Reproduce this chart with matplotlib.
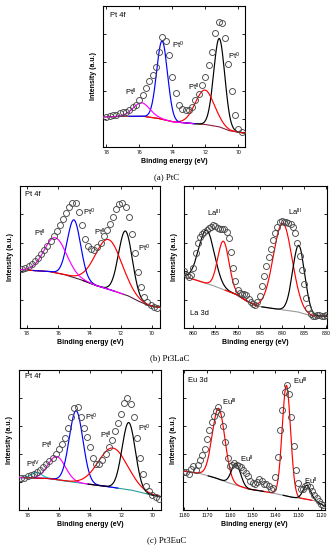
import numpy as np
import matplotlib
matplotlib.use("Agg")
import matplotlib.pyplot as plt

plt.rcParams['font.family'] = ['Liberation Sans', 'DejaVu Sans']
plt.rcParams['mathtext.default'] = 'regular'

# ---------------- data ----------------
# (a) PtC, Pt 4f
a_E = np.round(np.arange(78.0, 69.75, -0.2), 2)
a_I = np.array([21, 22, 22.5, 23, 24, 24.5, 25, 26.5, 28.5, 30, 33, 37, 42, 47, 51, 57, 67.5, 78, 75, 65,
                50, 38, 30, 27, 26, 26.5, 28.5, 33, 37.5, 44, 50, 58, 67.5, 80.5, 89, 88, 77, 59, 40, 22.5,
                13, 10.5]) / 100
a_bg_E = [78.2, 76.99, 75.77, 74.76, 73.95, 72.74, 71.93, 71.12, 70.51, 69.70]
a_bg_I = [0.213, 0.218, 0.218, 0.201, 0.178, 0.166, 0.159, 0.142, 0.114, 0.100]
a_centers = [71.16, 72.03, 74.62, 75.87]
a_amps = [0.627, 0.244, 0.555, 0.095]
a_fwhm = [0.79, 1.36, 0.77, 1.2]
a_colors = ['black', 'red', 'blue', 'magenta']

# (b) Pt3LaC, Pt 4f
bl_E = np.round(np.arange(78.3, 69.65, -0.2), 2)
bl_I = np.array([41.5, 42, 43.5, 45, 47, 49.5, 52, 55, 58, 61.5, 65, 68.5, 72.5, 77, 81, 85.5, 88, 88, 82, 72.5,
                 63, 58, 55.5, 55, 57, 60, 64.5, 69, 73.5, 78.5, 83.5, 87.5, 88, 85, 78.5, 66.5, 52.5, 39.5, 29,
                 21.5, 18, 16.5, 15, 14]) / 100
bl_bg_E = [78.4, 78.0, 76.5, 75.5, 74.5, 73.5, 72.5, 71.5, 70.8, 70.2, 69.55]
bl_bg_I = [0.41, 0.408, 0.397, 0.373, 0.338, 0.296, 0.263, 0.225, 0.185, 0.157, 0.146]
bl_centers = [71.71, 72.79, 75.0, 76.19]
bl_amps = [0.45, 0.35, 0.406, 0.246]
bl_fwhm = [1.04, 2.0, 1.0, 1.67]
bl_colors = ['black', 'red', 'blue', 'magenta']

# (b) Pt3LaC, La 3d
br_E = np.arange(862.0, 829.9, -0.5)
br_I = np.array([403, 375, 361, 375, 422, 527, 601, 643, 664, 676, 688, 702, 711, 725, 721, 704, 695, 697, 697,
                 678, 632, 538, 422, 329, 266, 245, 238, 240, 231, 205, 182, 166, 163, 186, 228, 298, 368, 434,
                 499, 559, 622, 669, 711, 744, 755, 748, 744, 741, 732, 711, 671, 601, 508, 410, 310, 214, 138,
                 100, 86, 84, 91, 89, 84, 86, 89]) / 1000
br_bg_E = [862.1, 858.9, 855.1, 850.2, 847.9, 845.6, 841.5, 836.2, 833.2, 829.8]
br_bg_I = [0.364, 0.333, 0.294, 0.235, 0.189, 0.154, 0.135, 0.112, 0.084, 0.084]
br_centers = [857.0, 853.2, 839.8, 836.2]
br_amps = [0.375, 0.34, 0.61, 0.47]
br_fwhm = [4.2, 3.0, 5.0, 3.2]
br_colors = ['black', 'red', 'red', 'black']

# (c) Pt3EuC, Pt 4f
cl_E = np.round(np.arange(78.4, 69.55, -0.2), 2)
cl_I = np.array([228, 230, 240, 249, 259, 271, 286, 305, 327, 351, 373, 402, 436, 472, 516, 584, 666, 726, 734,
                 661, 588, 525, 448, 375, 332, 332, 356, 400, 448, 501, 564, 620, 685, 763, 799, 758, 661, 516,
                 370, 254, 172, 133, 107, 94, 82]) / 1000
cl_bg_E = [78.55, 78.15, 76.61, 74.89, 72.74, 71.24, 69.95, 69.45]
cl_bg_I = [0.232, 0.230, 0.225, 0.196, 0.165, 0.140, 0.104, 0.095]
cl_centers = [77.42, 76.13, 74.89, 72.53, 71.52]
cl_amps = [0.04, 0.165, 0.513, 0.281, 0.48]
cl_fwhm = [0.8, 1.3, 1.03, 2.2, 1.0]
cl_colors = ['#00c8d0', 'magenta', 'blue', 'red', 'black']

# (c) Pt3EuC, Eu 3d
cr_E = np.arange(1180.0, 1118.5, -1.0)
cr_I = np.array([268, 273, 260, 296, 312, 283, 325, 358, 395, 439, 506, 571, 629, 673, 709, 735, 683, 597, 488,
                 371, 314, 325, 335, 325, 314, 304, 286, 265, 242, 208, 195, 184, 203, 221, 205, 184, 187, 174,
                 153, 158, 236, 377, 571, 714, 844, 896, 831, 662, 455, 286, 195, 153, 153, 174, 179, 164, 135,
                 104, 86, 65, 42, 34]) / 1000
cr_bg_E = [1180.5, 1172.8, 1165.7, 1159.9, 1151.3, 1144.1, 1138.4, 1132.7, 1126.9, 1122.6, 1118.3]
cr_bg_I = [0.278, 0.260, 0.226, 0.190, 0.148, 0.130, 0.112, 0.091, 0.078, 0.065, 0.026]
cr_centers = [1164.9, 1135.2, 1157.3, 1126.2]
cr_amps = [0.505, 0.79, 0.155, 0.10]
cr_fwhm = [6.5, 4.3, 4.7, 4.0]
cr_colors = ['red', 'red', 'black', 'black']

# ---------------- drawing ----------------
W, H = 334, 550
fig = plt.figure(figsize=(W / 100, H / 100), dpi=100)


def rect(l, r, t, b):
    return [l / W, 1 - b / H, (r - l) / W, (b - t) / H]


FS_TICK = 3.8
FS_LAB = 5.0
FS_TXT = 5.4


def panel(pos, xlim, xticks, E, I, bgE, bgI, bgcol, cents, amps, fwhms, cols, texts):
    ax = fig.add_axes(rect(*pos))
    grid = np.linspace(min(xlim), max(xlim), 800)
    order = np.argsort(bgE)
    bg = np.interp(grid, np.array(bgE)[order], np.array(bgI)[order])
    ax.plot(grid, bg, color=bgcol, lw=0.8, zorder=2)
    for c, a, w, col in zip(cents, amps, fwhms, cols):
        m = np.abs(grid - c) <= 2.6 * w
        g = a * np.exp(-4 * np.log(2) * (grid - c) ** 2 / w ** 2)
        ax.plot(grid[m], (bg + g)[m], color=col, lw=0.85, zorder=3)
    ax.plot(E, I, ls='none', marker='o', ms=4.3, mfc='none', mec='#4a4a4a', mew=0.65, zorder=4)
    ax.set_xlim(*xlim)
    ax.set_ylim(0, 1)
    ax.set_xticks(xticks)
    ax.set_xticklabels([str(t) for t in xticks])
    ax.set_yticks([0.2, 0.4, 0.6, 0.8])
    ax.set_yticklabels([])
    ax.tick_params(direction='in', length=2.5, width=0.6, top=True, right=True, labelsize=FS_TICK, pad=2)
    for s in ax.spines.values():
        s.set_linewidth(0.8)
    ax.set_xlabel('Binding energy (eV)', fontsize=FS_LAB, fontweight='bold', labelpad=2)
    ax.set_ylabel('Intensity (a.u.)', fontsize=FS_LAB, fontweight='bold', labelpad=2)
    for (x, y, s) in texts:
        ax.text(x, y, s, fontsize=FS_TXT, ha='left', va='center', zorder=5)
    return ax


panel((103, 245, 6, 147), (78.2, 69.6), [78, 76, 74, 72, 70], a_E, a_I, a_bg_E, a_bg_I, '#8b1c3c',
      a_centers, a_amps, a_fwhm, a_colors,
      [(77.8, 0.936, 'Pt 4f'), (74.05, 0.723, 'Pt$^{0}$'), (76.88, 0.39, 'Pt$^{II}$'),
       (73.04, 0.42, 'Pt$^{II}$'), (70.61, 0.645, 'Pt$^{0}$')])

panel((20, 160, 186, 328), (78.45, 69.5), [78, 76, 74, 72, 70], bl_E, bl_I, bl_bg_E, bl_bg_I, '#4b2040',
      bl_centers, bl_amps, bl_fwhm, bl_colors,
      [(78.13, 0.937, 'Pt 4f'), (77.54, 0.667, 'Pt$^{II}$'), (74.42, 0.812, 'Pt$^{0}$'),
       (73.69, 0.671, 'Pt$^{II}$'), (70.88, 0.561, 'Pt$^{0}$')])

panel((184, 327, 186, 328), (862.1, 829.8), [860, 855, 850, 845, 840, 835, 830], br_E, br_I, br_bg_E, br_bg_I,
      '#9a9a9a', br_centers, br_amps, br_fwhm, br_colors,
      [(860.8, 0.103, 'La 3d'), (857.0, 0.807, 'La$^{III}$'), (838.6, 0.811, 'La$^{III}$')])

panel((19, 161, 370, 510), (78.55, 69.45), [78, 76, 74, 72, 70], cl_E, cl_I, cl_bg_E, cl_bg_I, '#2a9d9d',
      cl_centers, cl_amps, cl_fwhm, cl_colors,
      [(78.15, 0.95, 'Pt 4f'), (78.1, 0.327, 'Pt$^{IV}$'), (77.14, 0.462, 'Pt$^{II}$'),
       (74.35, 0.661, 'Pt$^{0}$'), (73.39, 0.535, 'Pt$^{II}$'), (70.92, 0.584, 'Pt$^{0}$')])

panel((183, 325, 370, 510), (1180.5, 1118.3), [1180, 1170, 1160, 1150, 1140, 1130, 1120], cr_E, cr_I,
      cr_bg_E, cr_bg_I, '#9a9a9a', cr_centers, cr_amps, cr_fwhm, cr_colors,
      [(1178.3, 0.927, 'Eu 3d'), (1163.5, 0.771, 'Eu$^{III}$'), (1155.6, 0.364, 'Eu$^{II}$'),
       (1132.4, 0.922, 'Eu$^{III}$'), (1127.6, 0.208, 'Eu$^{II}$')])

cap = dict(fontsize=6.3, family=['Liberation Serif', 'DejaVu Serif'], ha='center', va='center')
fig.text(167 / W, 1 - 177 / H, '(a) PtC', **cap)
fig.text(170 / W, 1 - 358 / H, '(b) Pt3LaC', **cap)
fig.text(167 / W, 1 - 540 / H, '(c) Pt3EuC', **cap)

fig.savefig('out.png', dpi=100)
